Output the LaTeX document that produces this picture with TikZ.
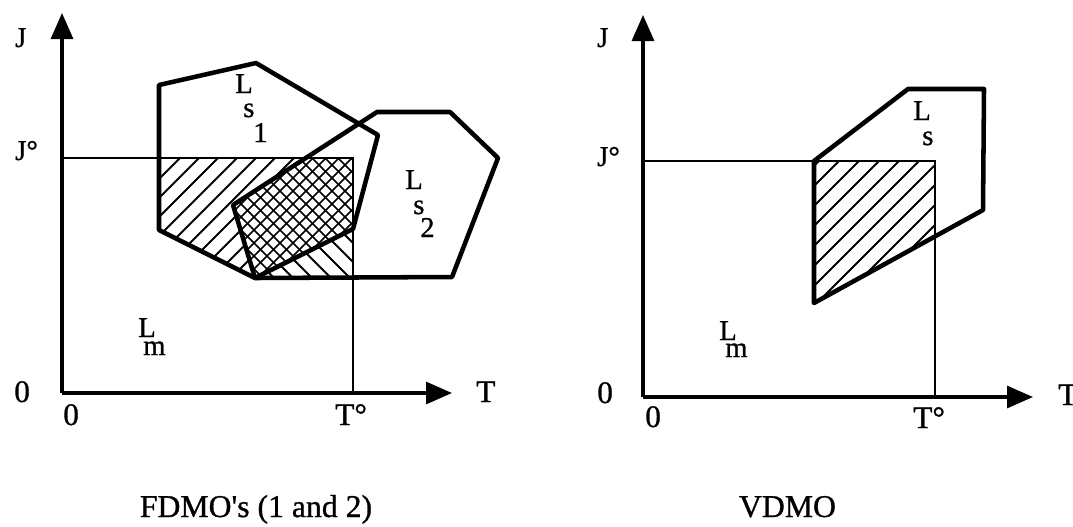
\documentclass[tikz,border=0pt]{standalone}
\usepackage{fontspec}
\setmainfont{Liberation Serif}
\newfontfamily\heavyserif{Liberation Serif}[FakeBold=0.9]
\usetikzlibrary{arrows.meta}
\begin{document}
\begin{tikzpicture}[x=0.75pt,y=-0.75pt,
  axis/.style={line width=2.3pt,-{Triangle[length=19.5pt,width=16.5pt]}},
  guide/.style={line width=2.1pt},
  region/.style={line width=3.4pt,line join=round},
  hatch/.style={line width=1.4pt},
  xhatch/.style={line width=1.1pt},
  lab/.style={inner sep=0pt,anchor=base west,font=\heavyserif\fontsize{23.5}{28}\selectfont},
  jlab/.style={lab,font=\heavyserif\fontsize{21.5}{25}\selectfont},
  sublab/.style={lab,font=\heavyserif\fontsize{21.5}{25}\selectfont},
  captionlab/.style={inner sep=0pt,anchor=base,font=\heavyserif\fontsize{23.8}{28}\selectfont}
]
\useasboundingbox (0,0) rectangle (1073,526);

% ---------------- left panel coordinates ----------------
\coordinate (o1) at (62,393);
\coordinate (j1tip) at (62,13);
\coordinate (t1tip) at (452,393);
\coordinate (jo1) at (62,158);
\coordinate (c1) at (353,158);
\coordinate (to1) at (353,393);
% Ls1
\coordinate (a1) at (159,85);
\coordinate (a2) at (256,63);
\coordinate (a3) at (378,135);
\coordinate (a4) at (353,229);
\coordinate (a5) at (255,278);
\coordinate (a6) at (159,230);
% Ls2
\coordinate (b2) at (452,277);
\coordinate (b3) at (498,158);
\coordinate (b4) at (450,112);
\coordinate (b5) at (377,112);
\coordinate (b6) at (233,205);
% intersections
\coordinate (x1) at (306,158);
\coordinate (x2) at (353,277.5);
\coordinate (x3) at (159,158);

% hatching: Ls1 only
\begin{scope}
  \clip (x3) -- (x1) -- (b6) -- (a5) -- (a6) -- cycle;
  \foreach \c in {300,319,...,720} \draw[hatch] (\c,0) -- ({\c-600},600);
\end{scope}
% hatching: Ls2 only
\begin{scope}
  \clip (a5) -- (a4) -- (x2) -- cycle;
  \foreach \c in {-80,-61,...,240} \draw[hatch] (\c,0) -- ({\c+600},600);
\end{scope}
% cross hatching: Ls1 and Ls2
\begin{scope}
  \clip (x1) -- (c1) -- (a4) -- (a5) -- (b6) -- cycle;
  \foreach \c in {380,393,...,720} \draw[xhatch] (\c,0) -- ({\c-600},600);
  \foreach \c in {-80,-67,...,280} \draw[xhatch] (\c,0) -- ({\c+600},600);
\end{scope}

\draw[guide] (jo1) -- (c1) -- (to1);
\draw[axis] (o1) -- (j1tip);
\draw[axis] (o1) -- (t1tip);
\draw[region] (a1) -- (a2) -- (a3) -- (a4) -- (a5) -- (a6) -- cycle;
\draw[region] (a5) -- (b2) -- (b3) -- (b4) -- (b5) -- (b6) -- cycle;

\node[jlab] (lJ1) at (15,47) {J};
\node[jlab] (lJo1) at (15,160) {J°};
\node[lab] (lO1) at (14,402) {0};
\node[lab] (lOb1) at (63,425) {0};
\node[lab] (lTo1) at (335,425) {T°};
\node[lab] (lT1) at (476,402) {T};
\node[sublab] (ls1L) at (235,93) {L};
\node[sublab] (ls1s) at (243,117) {s};
\node[sublab] (ls1n) at (253,142) {1};
\node[sublab] (ls2L) at (405,189) {L};
\node[sublab] (ls2s) at (413,214) {s};
\node[sublab] (ls2n) at (420,237) {2};
\node[sublab] (lm1L) at (138,337) {L};
\node[sublab] (lm1m) at (143,355) {m};
\node[captionlab] (cap1) at (256,517) {FDMO{\textquotesingle}s (1 and 2)};

% ---------------- right panel ----------------
\coordinate (o2) at (643,397);
\coordinate (j2tip) at (643,15);
\coordinate (t2tip) at (1033,397);
\coordinate (jo2) at (643,161);
\coordinate (c2) at (935,161);
\coordinate (to2) at (935,397);
\coordinate (d1) at (814,161);
\coordinate (d2) at (908,89);
\coordinate (d3) at (984,89);
\coordinate (d4) at (983,210);
\coordinate (d5) at (814,303);
\coordinate (y1) at (935,236.4);

\begin{scope}
  \clip (d1) -- (c2) -- (y1) -- (d5) -- cycle;
  \foreach \c in {940,960,...,1220} \draw[hatch] (\c,0) -- ({\c-600},600);
\end{scope}

\draw[guide] (jo2) -- (c2) -- (to2);
\draw[axis] (o2) -- (j2tip);
\draw[axis] (o2) -- (t2tip);
\draw[region] (d1) -- (d2) -- (d3) -- (d4) -- (d5) -- cycle;

\node[jlab] (lJ2) at (597,47) {J};
\node[jlab] (lJo2) at (597,166) {J°};
\node[lab] (lO2) at (597,403) {0};
\node[lab] (lOb2) at (645,427) {0};
\node[lab] (lTo2) at (913,428) {T°};
\node[lab] (lT2) at (1058,405) {T};
\node[sublab] (lsL) at (913,120) {L};
\node[sublab] (lss) at (922,145) {s};
\node[sublab] (lm2L) at (719,340) {L};
\node[sublab] (lm2m) at (725,357) {m};
\node[captionlab] (cap2) at (787.5,517) {VDMO};
\end{tikzpicture}
\end{document}
